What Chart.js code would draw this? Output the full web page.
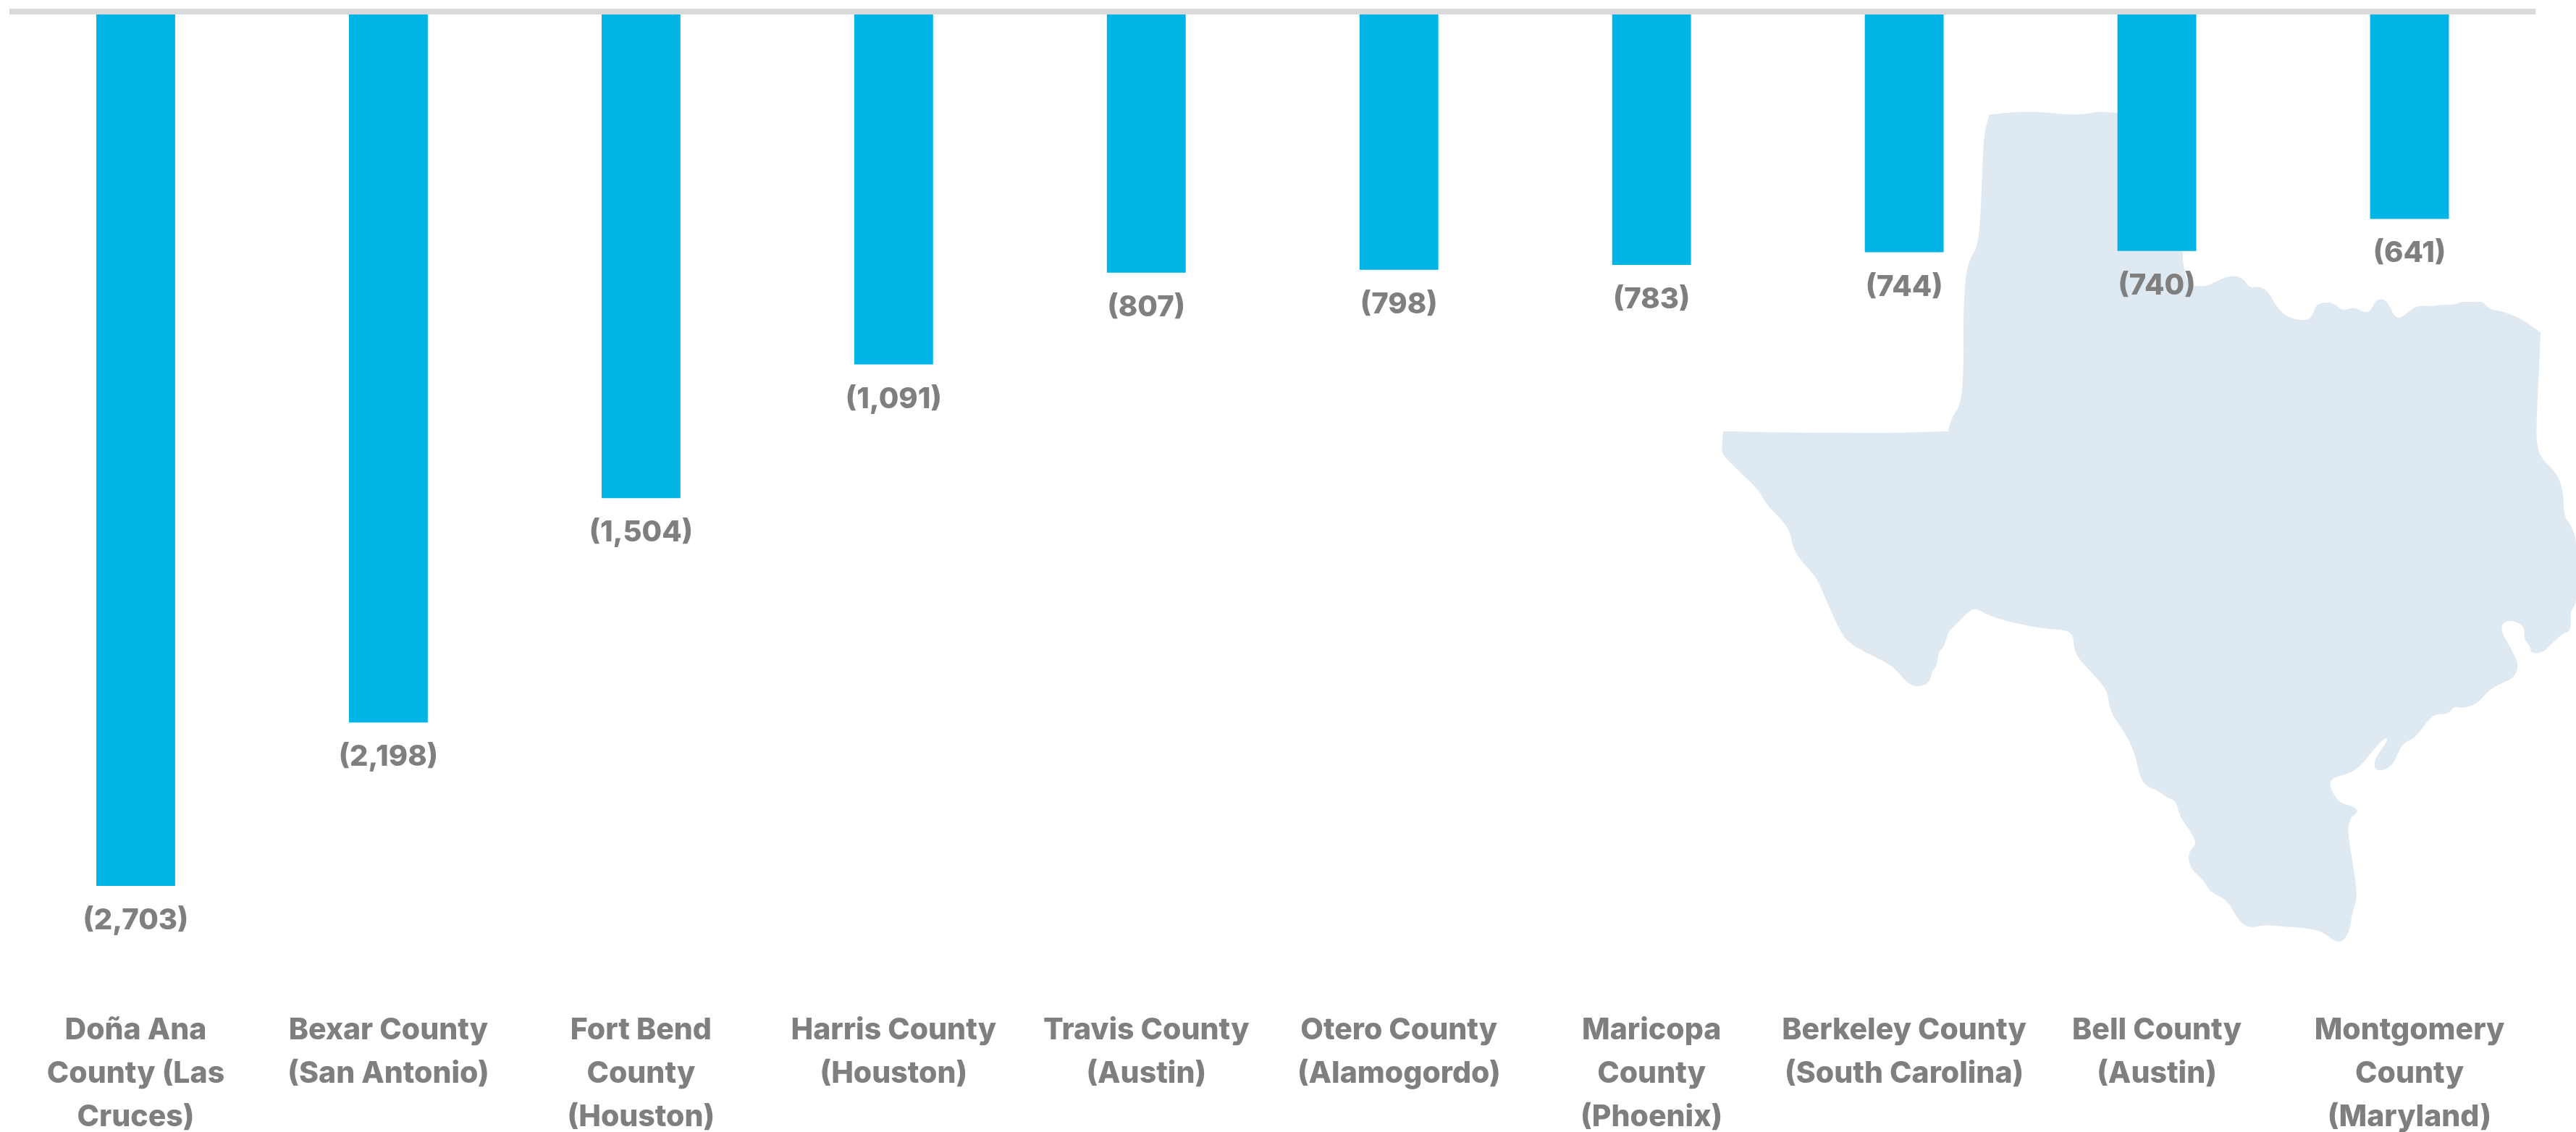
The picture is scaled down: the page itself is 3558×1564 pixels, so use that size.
<!DOCTYPE html>
<html><head><meta charset="utf-8">
<style>html,body{margin:0;padding:0;background:#fff}#w{position:relative;width:3558px;height:1564px;overflow:hidden}</style>
<script src="https://cdn.jsdelivr.net/npm/chart.js@4"></script></head>
<body><div id="w"><canvas id="c" width="3558" height="1564"></canvas></div>
<script>
const categories=[["Doña Ana","County (Las","Cruces)"],["Bexar County","(San Antonio)"],["Fort Bend","County","(Houston)"],["Harris County","(Houston)"],["Travis County","(Austin)"],["Otero County","(Alamogordo)"],["Maricopa","County","(Phoenix)"],["Berkeley County","(South Carolina)"],["Bell County","(Austin)"],["Montgomery","County","(Maryland)"]];
const values=[-2703,-2198,-1504,-1091,-807,-798,-783,-744,-740,-641];
const FONT='Inter';
const texasOutline=[[558,73],[558,73],[600,68],[650,68],[690,73],[725,72],[745,67],[778,70],[890,70],[890,310],[893,340],[900,365],[925,370],[945,362],[965,352],[985,350],[998,358],[1006,372],[1025,368],[1040,380],[1050,400],[1065,417],[1085,426],[1108,427],[1116,415],[1120,400],[1140,395],[1155,400],[1165,411],[1185,404],[1205,414],[1215,410],[1222,393],[1235,389],[1245,398],[1255,420],[1265,424],[1280,412],[1295,401],[1320,403],[1335,400],[1362,400],[1372,394],[1395,396],[1408,394],[1418,408],[1445,412],[1475,425],[1507,448],[1507,448],[1505,500],[1500,600],[1500,640],[1508,665],[1535,690],[1546,720],[1547,765],[1560,780],[1570,810],[1570,915],[1558,925],[1560,962],[1545,966],[1525,985],[1510,1000],[1490,1000],[1490,990],[1478,975],[1480,955],[1460,943],[1440,948],[1440,965],[1455,990],[1470,1020],[1462,1042],[1440,1052],[1420,1062],[1395,1090],[1370,1095],[1358,1092],[1348,1105],[1325,1105],[1310,1120],[1290,1147],[1270,1155],[1260,1175],[1253,1192],[1235,1203],[1220,1200],[1222,1180],[1245,1150],[1240,1145],[1220,1165],[1195,1198],[1170,1210],[1148,1215],[1143,1230],[1160,1258],[1180,1262],[1195,1272],[1178,1285],[1175,1310],[1185,1370],[1192,1420],[1183,1445],[1178,1480],[1165,1498],[1150,1495],[1125,1475],[1050,1470],[1030,1468],[1005,1474],[985,1458],[968,1425],[938,1412],[930,1395],[905,1372],[900,1350],[905,1338],[915,1328],[905,1308],[885,1280],[880,1255],[862,1248],[850,1238],[825,1228],[815,1205],[808,1170],[790,1135],[765,1100],[762,1065],[740,1040],[710,1008],[703,990],[703,970],[690,960],[650,958],[600,948],[555,935],[535,922],[520,930],[500,952],[487,963],[480,990],[470,998],[468,1022],[460,1030],[455,1050],[440,1058],[420,1055],[400,1032],[385,1018],[317,985],[300,960],[275,905],[262,872],[235,842],[220,820],[215,790],[200,770],[175,745],[160,718],[130,690],[100,660],[97,650],[100,618],[100,618],[200,620],[300,621],[400,621],[487,618],[487,618],[493,595],[510,570],[514,500],[513,420],[517,350],[525,320],[540,295],[545,200],[548,110]];
const texasPlugin={id:'texas',beforeDatasetsDraw(chart){
  const c=chart.ctx,P=texasOutline.map(p=>[2300+p[0]/1.2464,100+p[1]/1.2464]);
  c.save();c.fillStyle='#dfe9f2';c.beginPath();
  const n=P.length;
  c.moveTo((P[n-1][0]+P[0][0])/2,(P[n-1][1]+P[0][1])/2);
  for(let i=0;i<n;i++){const q=P[(i+1)%n];c.quadraticCurveTo(P[i][0],P[i][1],(P[i][0]+q[0])/2,(P[i][1]+q[1])/2);}
  c.closePath();c.fill();c.restore();
}};
const valueLabels={id:'valueLabels',afterDatasetsDraw(chart){
  const c=chart.ctx;c.save();c.font='800 40px '+FONT;c.fillStyle='#7f7f7f';c.textAlign='center';c.textBaseline='middle';
  chart.getDatasetMeta(0).data.forEach((b,i)=>c.fillText('('+Math.abs(values[i]).toLocaleString('en-US')+')',b.x,b.y+48));
  c.restore();
}};
new Chart(document.getElementById('c'),{type:'bar',
 data:{labels:categories,datasets:[{data:values,backgroundColor:'#00b5e6',barPercentage:0.312,categoryPercentage:1}]},
 plugins:[texasPlugin,valueLabels],
 options:{responsive:false,animation:false,
  layout:{padding:{left:13,right:55.5,top:16,bottom:0}},
  plugins:{legend:{display:false},tooltip:{enabled:false}},
  scales:{
   x:{grid:{display:false},border:{display:false},
      afterFit(s){s.height=207.3;},
      ticks:{color:'#7f7f7f',font:{family:FONT,weight:'800',size:41,lineHeight:60/41},padding:29,maxRotation:0,minRotation:0,autoSkip:false}},
   y:{min:-3000,max:0,afterFit(s){s.width=0;},border:{display:false},
      ticks:{display:false,stepSize:1000},
      grid:{z:1,drawTicks:false,lineWidth:8,color:c=>c.tick.value===0?'#d9d9d9':'rgba(0,0,0,0)'}}
  }}});
</script></body></html>
